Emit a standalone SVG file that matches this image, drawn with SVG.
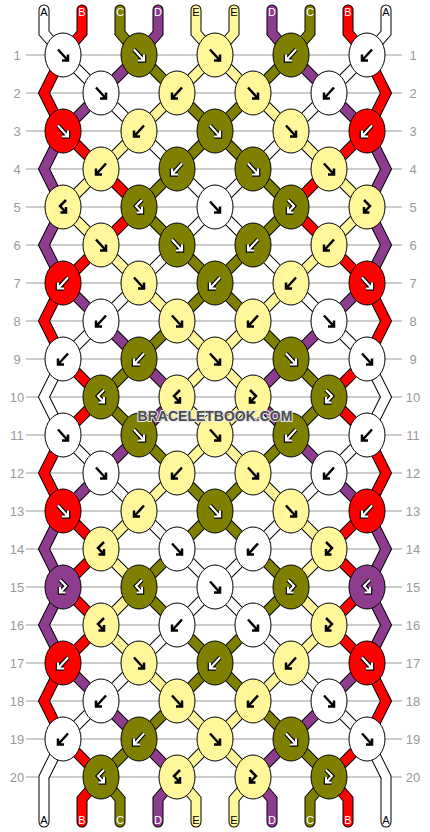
<svg xmlns="http://www.w3.org/2000/svg" width="430" height="832" viewBox="0 0 430 832">
<style>
.rl{stroke:#bcbcbc;stroke-width:1.5}
.rn{font-family:"Liberation Sans",Arial,sans-serif;font-size:13px;fill:#999;text-anchor:middle}
.lb{font-family:"Liberation Sans",Arial,sans-serif;font-size:11px;text-anchor:middle}
.ol{fill:none;stroke:#000;stroke-width:11;stroke-linecap:round;stroke-linejoin:miter}
.in{fill:none;stroke-width:9;stroke-linecap:round;stroke-linejoin:miter}
.cW{stroke:#fff}.cR{stroke:#f00}.cO{stroke:#808000}.cP{stroke:#8e3c8e}.cY{stroke:#fff799}
ellipse{stroke:#000;stroke-width:1}
.kW{fill:#fff}.kR{fill:#f00}.kO{fill:#808000}.kP{fill:#8e3c8e}.kY{fill:#fff799}
.ak{fill:none;stroke:#000;stroke-width:2.5}
.ao{fill:none;stroke:#000;stroke-width:4.5}
.aw{fill:none;stroke:#fff;stroke-width:2.2}
.wm{font-family:"Liberation Sans",Arial,sans-serif;font-size:14px;font-weight:bold;fill:#4d4d4d;stroke:#e6e6e6;stroke-width:2;paint-order:stroke;text-anchor:middle}
</style>
<defs>
<path id="f" d="M-5,-5.5L5,5.5M5,-0.5V5.5H-1"/>
<path id="b" d="M5,-5.5L-5,5.5M-5,-0.5V5.5H1"/>
<path id="fb" d="M-3,-7L3,-1L-3,5.5M-3,0V5.5H2.5"/>
<path id="bf" d="M3,-7L-3,-1L3,5.5M3,0V5.5H-2.5"/>
<path id="sW" d="M44,10V33L63,55M386,10V33L367,55M63,55l38,38M367,55l-38,38M101,93l38,38M329,93l-38,38M139,131l38,38M291,131l-38,38M177,169l38,38M253,169l-38,38M215,207l-38,38M215,207l38,38M177,245l-38,38M253,245l38,38M139,283l-38,38M291,283l38,38M101,321l-38,38M329,321l38,38M63,359L44,397L63,435M367,359L386,397L367,435M63,435l38,38M367,435l-38,38M101,473l38,38M329,473l-38,38M139,511l38,38M291,511l-38,38M177,549l38,38M253,549l-38,38M215,587l-38,38M215,587l38,38M177,625l-38,38M253,625l38,38M139,663l-38,38M291,663l38,38M101,701l-38,38M329,701l38,38M63,739L44,777V822M367,739L386,777V822"/>
<path id="sR" d="M82,10V33L63,55M348,10V33L367,55M63,55L44,93L63,131M367,55L386,93L367,131M63,131l38,38M367,131l-38,38M101,169l38,38M329,169l-38,38M139,207l-38,38M291,207l38,38M101,245l-38,38M329,245l38,38M63,283L44,321L63,359M367,283L386,321L367,359M63,359l38,38M367,359l-38,38M101,397l-38,38M329,397l38,38M63,435L44,473L63,511M367,435L386,473L367,511M63,511l38,38M367,511l-38,38M101,549l-38,38M329,549l38,38M63,587l38,38M367,587l-38,38M101,625l-38,38M329,625l38,38M63,663L44,701L63,739M367,663L386,701L367,739M63,739l38,38M367,739l-38,38M101,777L82,799V822M329,777L348,799V822"/>
<path id="sO" d="M120,10V33L139,55M310,10V33L291,55M139,55l38,38M291,55l-38,38M177,93l38,38M253,93l-38,38M215,131l-38,38M215,131l38,38M177,169l-38,38M253,169l38,38M139,207l38,38M291,207l-38,38M177,245l38,38M253,245l-38,38M215,283l-38,38M215,283l38,38M177,321l-38,38M253,321l38,38M139,359l-38,38M291,359l38,38M101,397l38,38M329,397l-38,38M139,435l38,38M291,435l-38,38M177,473l38,38M253,473l-38,38M215,511l-38,38M215,511l38,38M177,549l-38,38M253,549l38,38M139,587l38,38M291,587l-38,38M177,625l38,38M253,625l-38,38M215,663l-38,38M215,663l38,38M177,701l-38,38M253,701l38,38M139,739l-38,38M291,739l38,38M101,777L120,799V822M329,777L310,799V822"/>
<path id="sP" d="M158,10V33L139,55M272,10V33L291,55M139,55l-38,38M291,55l38,38M101,93l-38,38M329,93l38,38M63,131L44,169L63,207M367,131L386,169L367,207M63,207L44,245L63,283M367,207L386,245L367,283M63,283l38,38M367,283l-38,38M101,321l38,38M329,321l-38,38M139,359l38,38M291,359l-38,38M177,397l-38,38M253,397l38,38M139,435l-38,38M291,435l38,38M101,473l-38,38M329,473l38,38M63,511L44,549L63,587M367,511L386,549L367,587M63,587L44,625L63,663M367,587L386,625L367,663M63,663l38,38M367,663l-38,38M101,701l38,38M329,701l-38,38M139,739l38,38M291,739l-38,38M177,777L158,799V822M253,777L272,799V822"/>
<path id="sY" d="M196,10V33L215,55M234,10V33L215,55M215,55l-38,38M215,55l38,38M177,93l-38,38M253,93l38,38M139,131l-38,38M291,131l38,38M101,169l-38,38M329,169l38,38M63,207l38,38M367,207l-38,38M101,245l38,38M329,245l-38,38M139,283l38,38M291,283l-38,38M177,321l38,38M253,321l-38,38M215,359l-38,38M215,359l38,38M177,397l38,38M253,397l-38,38M215,435l-38,38M215,435l38,38M177,473l-38,38M253,473l38,38M139,511l-38,38M291,511l38,38M101,549l38,38M329,549l-38,38M139,587l-38,38M291,587l38,38M101,625l38,38M329,625l-38,38M139,663l38,38M291,663l-38,38M177,701l38,38M253,701l-38,38M215,739l-38,38M215,739l38,38M177,777L196,799V822M253,777L234,799V822"/>
</defs>
<rect width="430" height="832" fill="#fff"/>
<g id="rows">
<path class="rl" d="M26,55H402M26,93H402M26,131H402M26,169H402M26,207H402M26,245H402M26,283H402M26,321H402M26,359H402M26,397H402M26,435H402M26,473H402M26,511H402M26,549H402M26,587H402M26,625H402M26,663H402M26,701H402M26,739H402M26,777H402"/>
<text class="rn" x="17" y="60">1</text><text class="rn" x="413" y="60">1</text>
<text class="rn" x="17" y="98">2</text><text class="rn" x="413" y="98">2</text>
<text class="rn" x="17" y="136">3</text><text class="rn" x="413" y="136">3</text>
<text class="rn" x="17" y="174">4</text><text class="rn" x="413" y="174">4</text>
<text class="rn" x="17" y="212">5</text><text class="rn" x="413" y="212">5</text>
<text class="rn" x="17" y="250">6</text><text class="rn" x="413" y="250">6</text>
<text class="rn" x="17" y="288">7</text><text class="rn" x="413" y="288">7</text>
<text class="rn" x="17" y="326">8</text><text class="rn" x="413" y="326">8</text>
<text class="rn" x="17" y="364">9</text><text class="rn" x="413" y="364">9</text>
<text class="rn" x="17" y="402">10</text><text class="rn" x="413" y="402">10</text>
<text class="rn" x="17" y="440">11</text><text class="rn" x="413" y="440">11</text>
<text class="rn" x="17" y="478">12</text><text class="rn" x="413" y="478">12</text>
<text class="rn" x="17" y="516">13</text><text class="rn" x="413" y="516">13</text>
<text class="rn" x="17" y="554">14</text><text class="rn" x="413" y="554">14</text>
<text class="rn" x="17" y="592">15</text><text class="rn" x="413" y="592">15</text>
<text class="rn" x="17" y="630">16</text><text class="rn" x="413" y="630">16</text>
<text class="rn" x="17" y="668">17</text><text class="rn" x="413" y="668">17</text>
<text class="rn" x="17" y="706">18</text><text class="rn" x="413" y="706">18</text>
<text class="rn" x="17" y="744">19</text><text class="rn" x="413" y="744">19</text>
<text class="rn" x="17" y="782">20</text><text class="rn" x="413" y="782">20</text>
</g>
<g id="connectors">
<use href="#sW" class="ol"/><use href="#sR" class="ol"/><use href="#sO" class="ol"/><use href="#sP" class="ol"/><use href="#sY" class="ol"/>
<use href="#sW" class="in cW"/><use href="#sR" class="in cR"/><use href="#sO" class="in cO"/><use href="#sP" class="in cP"/><use href="#sY" class="in cY"/>
</g>
<g id="labels">
<text class="lb" x="44" y="16" fill="#000">A</text><text class="lb" x="82" y="16" fill="#fff">B</text><text class="lb" x="120" y="16" fill="#fff">C</text><text class="lb" x="158" y="16" fill="#fff">D</text><text class="lb" x="196" y="16" fill="#000">E</text><text class="lb" x="234" y="16" fill="#000">E</text><text class="lb" x="272" y="16" fill="#fff">D</text><text class="lb" x="310" y="16" fill="#fff">C</text><text class="lb" x="348" y="16" fill="#fff">B</text><text class="lb" x="386" y="16" fill="#000">A</text>
<text class="lb" x="44" y="824" fill="#000">A</text><text class="lb" x="82" y="824" fill="#fff">B</text><text class="lb" x="120" y="824" fill="#fff">C</text><text class="lb" x="158" y="824" fill="#fff">D</text><text class="lb" x="196" y="824" fill="#000">E</text><text class="lb" x="234" y="824" fill="#000">E</text><text class="lb" x="272" y="824" fill="#fff">D</text><text class="lb" x="310" y="824" fill="#fff">C</text><text class="lb" x="348" y="824" fill="#fff">B</text><text class="lb" x="386" y="824" fill="#000">A</text>
</g>
<g id="knots">
<g id="k1-1"><ellipse class="kW" cx="63" cy="55" rx="18" ry="22"/><use href="#f" x="63" y="55" class="ak"/></g>
<g id="k1-2"><ellipse class="kO" cx="139" cy="55" rx="18" ry="22"/><use href="#f" x="139" y="55" class="ao"/><use href="#f" x="139" y="55" class="aw"/></g>
<g id="k1-3"><ellipse class="kY" cx="215" cy="55" rx="18" ry="22"/><use href="#f" x="215" y="55" class="ak"/></g>
<g id="k1-4"><ellipse class="kO" cx="291" cy="55" rx="18" ry="22"/><use href="#b" x="291" y="55" class="ao"/><use href="#b" x="291" y="55" class="aw"/></g>
<g id="k1-5"><ellipse class="kW" cx="367" cy="55" rx="18" ry="22"/><use href="#b" x="367" y="55" class="ak"/></g>
<g id="k2-1"><ellipse class="kW" cx="101" cy="93" rx="18" ry="22"/><use href="#f" x="101" y="93" class="ak"/></g>
<g id="k2-2"><ellipse class="kY" cx="177" cy="93" rx="18" ry="22"/><use href="#b" x="177" y="93" class="ak"/></g>
<g id="k2-3"><ellipse class="kY" cx="253" cy="93" rx="18" ry="22"/><use href="#f" x="253" y="93" class="ak"/></g>
<g id="k2-4"><ellipse class="kW" cx="329" cy="93" rx="18" ry="22"/><use href="#b" x="329" y="93" class="ak"/></g>
<g id="k3-1"><ellipse class="kR" cx="63" cy="131" rx="18" ry="22"/><use href="#f" x="63" y="131" class="ao"/><use href="#f" x="63" y="131" class="aw"/></g>
<g id="k3-2"><ellipse class="kY" cx="139" cy="131" rx="18" ry="22"/><use href="#b" x="139" y="131" class="ak"/></g>
<g id="k3-3"><ellipse class="kO" cx="215" cy="131" rx="18" ry="22"/><use href="#f" x="215" y="131" class="ao"/><use href="#f" x="215" y="131" class="aw"/></g>
<g id="k3-4"><ellipse class="kY" cx="291" cy="131" rx="18" ry="22"/><use href="#f" x="291" y="131" class="ak"/></g>
<g id="k3-5"><ellipse class="kR" cx="367" cy="131" rx="18" ry="22"/><use href="#b" x="367" y="131" class="ao"/><use href="#b" x="367" y="131" class="aw"/></g>
<g id="k4-1"><ellipse class="kY" cx="101" cy="169" rx="18" ry="22"/><use href="#b" x="101" y="169" class="ak"/></g>
<g id="k4-2"><ellipse class="kO" cx="177" cy="169" rx="18" ry="22"/><use href="#b" x="177" y="169" class="ao"/><use href="#b" x="177" y="169" class="aw"/></g>
<g id="k4-3"><ellipse class="kO" cx="253" cy="169" rx="18" ry="22"/><use href="#f" x="253" y="169" class="ao"/><use href="#f" x="253" y="169" class="aw"/></g>
<g id="k4-4"><ellipse class="kY" cx="329" cy="169" rx="18" ry="22"/><use href="#f" x="329" y="169" class="ak"/></g>
<g id="k5-1"><ellipse class="kY" cx="63" cy="207" rx="18" ry="22"/><use href="#bf" x="63" y="207" class="ak"/></g>
<g id="k5-2"><ellipse class="kO" cx="139" cy="207" rx="18" ry="22"/><use href="#bf" x="139" y="207" class="ao"/><use href="#bf" x="139" y="207" class="aw"/></g>
<g id="k5-3"><ellipse class="kW" cx="215" cy="207" rx="18" ry="22"/><use href="#f" x="215" y="207" class="ak"/></g>
<g id="k5-4"><ellipse class="kO" cx="291" cy="207" rx="18" ry="22"/><use href="#fb" x="291" y="207" class="ao"/><use href="#fb" x="291" y="207" class="aw"/></g>
<g id="k5-5"><ellipse class="kY" cx="367" cy="207" rx="18" ry="22"/><use href="#fb" x="367" y="207" class="ak"/></g>
<g id="k6-1"><ellipse class="kY" cx="101" cy="245" rx="18" ry="22"/><use href="#f" x="101" y="245" class="ak"/></g>
<g id="k6-2"><ellipse class="kO" cx="177" cy="245" rx="18" ry="22"/><use href="#f" x="177" y="245" class="ao"/><use href="#f" x="177" y="245" class="aw"/></g>
<g id="k6-3"><ellipse class="kO" cx="253" cy="245" rx="18" ry="22"/><use href="#b" x="253" y="245" class="ao"/><use href="#b" x="253" y="245" class="aw"/></g>
<g id="k6-4"><ellipse class="kY" cx="329" cy="245" rx="18" ry="22"/><use href="#b" x="329" y="245" class="ak"/></g>
<g id="k7-1"><ellipse class="kR" cx="63" cy="283" rx="18" ry="22"/><use href="#b" x="63" y="283" class="ao"/><use href="#b" x="63" y="283" class="aw"/></g>
<g id="k7-2"><ellipse class="kY" cx="139" cy="283" rx="18" ry="22"/><use href="#f" x="139" y="283" class="ak"/></g>
<g id="k7-3"><ellipse class="kO" cx="215" cy="283" rx="18" ry="22"/><use href="#b" x="215" y="283" class="ao"/><use href="#b" x="215" y="283" class="aw"/></g>
<g id="k7-4"><ellipse class="kY" cx="291" cy="283" rx="18" ry="22"/><use href="#b" x="291" y="283" class="ak"/></g>
<g id="k7-5"><ellipse class="kR" cx="367" cy="283" rx="18" ry="22"/><use href="#f" x="367" y="283" class="ao"/><use href="#f" x="367" y="283" class="aw"/></g>
<g id="k8-1"><ellipse class="kW" cx="101" cy="321" rx="18" ry="22"/><use href="#b" x="101" y="321" class="ak"/></g>
<g id="k8-2"><ellipse class="kY" cx="177" cy="321" rx="18" ry="22"/><use href="#f" x="177" y="321" class="ak"/></g>
<g id="k8-3"><ellipse class="kY" cx="253" cy="321" rx="18" ry="22"/><use href="#b" x="253" y="321" class="ak"/></g>
<g id="k8-4"><ellipse class="kW" cx="329" cy="321" rx="18" ry="22"/><use href="#f" x="329" y="321" class="ak"/></g>
<g id="k9-1"><ellipse class="kW" cx="63" cy="359" rx="18" ry="22"/><use href="#b" x="63" y="359" class="ak"/></g>
<g id="k9-2"><ellipse class="kO" cx="139" cy="359" rx="18" ry="22"/><use href="#b" x="139" y="359" class="ao"/><use href="#b" x="139" y="359" class="aw"/></g>
<g id="k9-3"><ellipse class="kY" cx="215" cy="359" rx="18" ry="22"/><use href="#f" x="215" y="359" class="ak"/></g>
<g id="k9-4"><ellipse class="kO" cx="291" cy="359" rx="18" ry="22"/><use href="#f" x="291" y="359" class="ao"/><use href="#f" x="291" y="359" class="aw"/></g>
<g id="k9-5"><ellipse class="kW" cx="367" cy="359" rx="18" ry="22"/><use href="#f" x="367" y="359" class="ak"/></g>
<g id="k10-1"><ellipse class="kO" cx="101" cy="397" rx="18" ry="22"/><use href="#bf" x="101" y="397" class="ao"/><use href="#bf" x="101" y="397" class="aw"/></g>
<g id="k10-2"><ellipse class="kY" cx="177" cy="397" rx="18" ry="22"/><use href="#bf" x="177" y="397" class="ak"/></g>
<g id="k10-3"><ellipse class="kY" cx="253" cy="397" rx="18" ry="22"/><use href="#fb" x="253" y="397" class="ak"/></g>
<g id="k10-4"><ellipse class="kO" cx="329" cy="397" rx="18" ry="22"/><use href="#fb" x="329" y="397" class="ao"/><use href="#fb" x="329" y="397" class="aw"/></g>
<g id="k11-1"><ellipse class="kW" cx="63" cy="435" rx="18" ry="22"/><use href="#f" x="63" y="435" class="ak"/></g>
<g id="k11-2"><ellipse class="kO" cx="139" cy="435" rx="18" ry="22"/><use href="#f" x="139" y="435" class="ao"/><use href="#f" x="139" y="435" class="aw"/></g>
<g id="k11-3"><ellipse class="kY" cx="215" cy="435" rx="18" ry="22"/><use href="#f" x="215" y="435" class="ak"/></g>
<g id="k11-4"><ellipse class="kO" cx="291" cy="435" rx="18" ry="22"/><use href="#b" x="291" y="435" class="ao"/><use href="#b" x="291" y="435" class="aw"/></g>
<g id="k11-5"><ellipse class="kW" cx="367" cy="435" rx="18" ry="22"/><use href="#b" x="367" y="435" class="ak"/></g>
<g id="k12-1"><ellipse class="kW" cx="101" cy="473" rx="18" ry="22"/><use href="#f" x="101" y="473" class="ak"/></g>
<g id="k12-2"><ellipse class="kY" cx="177" cy="473" rx="18" ry="22"/><use href="#b" x="177" y="473" class="ak"/></g>
<g id="k12-3"><ellipse class="kY" cx="253" cy="473" rx="18" ry="22"/><use href="#f" x="253" y="473" class="ak"/></g>
<g id="k12-4"><ellipse class="kW" cx="329" cy="473" rx="18" ry="22"/><use href="#b" x="329" y="473" class="ak"/></g>
<g id="k13-1"><ellipse class="kR" cx="63" cy="511" rx="18" ry="22"/><use href="#f" x="63" y="511" class="ao"/><use href="#f" x="63" y="511" class="aw"/></g>
<g id="k13-2"><ellipse class="kY" cx="139" cy="511" rx="18" ry="22"/><use href="#b" x="139" y="511" class="ak"/></g>
<g id="k13-3"><ellipse class="kO" cx="215" cy="511" rx="18" ry="22"/><use href="#f" x="215" y="511" class="ao"/><use href="#f" x="215" y="511" class="aw"/></g>
<g id="k13-4"><ellipse class="kY" cx="291" cy="511" rx="18" ry="22"/><use href="#f" x="291" y="511" class="ak"/></g>
<g id="k13-5"><ellipse class="kR" cx="367" cy="511" rx="18" ry="22"/><use href="#b" x="367" y="511" class="ao"/><use href="#b" x="367" y="511" class="aw"/></g>
<g id="k14-1"><ellipse class="kY" cx="101" cy="549" rx="18" ry="22"/><use href="#bf" x="101" y="549" class="ak"/></g>
<g id="k14-2"><ellipse class="kW" cx="177" cy="549" rx="18" ry="22"/><use href="#f" x="177" y="549" class="ak"/></g>
<g id="k14-3"><ellipse class="kW" cx="253" cy="549" rx="18" ry="22"/><use href="#b" x="253" y="549" class="ak"/></g>
<g id="k14-4"><ellipse class="kY" cx="329" cy="549" rx="18" ry="22"/><use href="#fb" x="329" y="549" class="ak"/></g>
<g id="k15-1"><ellipse class="kP" cx="63" cy="587" rx="18" ry="22"/><use href="#fb" x="63" y="587" class="ao"/><use href="#fb" x="63" y="587" class="aw"/></g>
<g id="k15-2"><ellipse class="kO" cx="139" cy="587" rx="18" ry="22"/><use href="#bf" x="139" y="587" class="ao"/><use href="#bf" x="139" y="587" class="aw"/></g>
<g id="k15-3"><ellipse class="kW" cx="215" cy="587" rx="18" ry="22"/><use href="#f" x="215" y="587" class="ak"/></g>
<g id="k15-4"><ellipse class="kO" cx="291" cy="587" rx="18" ry="22"/><use href="#fb" x="291" y="587" class="ao"/><use href="#fb" x="291" y="587" class="aw"/></g>
<g id="k15-5"><ellipse class="kP" cx="367" cy="587" rx="18" ry="22"/><use href="#bf" x="367" y="587" class="ao"/><use href="#bf" x="367" y="587" class="aw"/></g>
<g id="k16-1"><ellipse class="kY" cx="101" cy="625" rx="18" ry="22"/><use href="#bf" x="101" y="625" class="ak"/></g>
<g id="k16-2"><ellipse class="kW" cx="177" cy="625" rx="18" ry="22"/><use href="#b" x="177" y="625" class="ak"/></g>
<g id="k16-3"><ellipse class="kW" cx="253" cy="625" rx="18" ry="22"/><use href="#f" x="253" y="625" class="ak"/></g>
<g id="k16-4"><ellipse class="kY" cx="329" cy="625" rx="18" ry="22"/><use href="#fb" x="329" y="625" class="ak"/></g>
<g id="k17-1"><ellipse class="kR" cx="63" cy="663" rx="18" ry="22"/><use href="#b" x="63" y="663" class="ao"/><use href="#b" x="63" y="663" class="aw"/></g>
<g id="k17-2"><ellipse class="kY" cx="139" cy="663" rx="18" ry="22"/><use href="#f" x="139" y="663" class="ak"/></g>
<g id="k17-3"><ellipse class="kO" cx="215" cy="663" rx="18" ry="22"/><use href="#b" x="215" y="663" class="ao"/><use href="#b" x="215" y="663" class="aw"/></g>
<g id="k17-4"><ellipse class="kY" cx="291" cy="663" rx="18" ry="22"/><use href="#b" x="291" y="663" class="ak"/></g>
<g id="k17-5"><ellipse class="kR" cx="367" cy="663" rx="18" ry="22"/><use href="#f" x="367" y="663" class="ao"/><use href="#f" x="367" y="663" class="aw"/></g>
<g id="k18-1"><ellipse class="kW" cx="101" cy="701" rx="18" ry="22"/><use href="#b" x="101" y="701" class="ak"/></g>
<g id="k18-2"><ellipse class="kY" cx="177" cy="701" rx="18" ry="22"/><use href="#f" x="177" y="701" class="ak"/></g>
<g id="k18-3"><ellipse class="kY" cx="253" cy="701" rx="18" ry="22"/><use href="#b" x="253" y="701" class="ak"/></g>
<g id="k18-4"><ellipse class="kW" cx="329" cy="701" rx="18" ry="22"/><use href="#f" x="329" y="701" class="ak"/></g>
<g id="k19-1"><ellipse class="kW" cx="63" cy="739" rx="18" ry="22"/><use href="#b" x="63" y="739" class="ak"/></g>
<g id="k19-2"><ellipse class="kO" cx="139" cy="739" rx="18" ry="22"/><use href="#b" x="139" y="739" class="ao"/><use href="#b" x="139" y="739" class="aw"/></g>
<g id="k19-3"><ellipse class="kY" cx="215" cy="739" rx="18" ry="22"/><use href="#f" x="215" y="739" class="ak"/></g>
<g id="k19-4"><ellipse class="kO" cx="291" cy="739" rx="18" ry="22"/><use href="#f" x="291" y="739" class="ao"/><use href="#f" x="291" y="739" class="aw"/></g>
<g id="k19-5"><ellipse class="kW" cx="367" cy="739" rx="18" ry="22"/><use href="#f" x="367" y="739" class="ak"/></g>
<g id="k20-1"><ellipse class="kO" cx="101" cy="777" rx="18" ry="22"/><use href="#bf" x="101" y="777" class="ao"/><use href="#bf" x="101" y="777" class="aw"/></g>
<g id="k20-2"><ellipse class="kY" cx="177" cy="777" rx="18" ry="22"/><use href="#bf" x="177" y="777" class="ak"/></g>
<g id="k20-3"><ellipse class="kY" cx="253" cy="777" rx="18" ry="22"/><use href="#fb" x="253" y="777" class="ak"/></g>
<g id="k20-4"><ellipse class="kO" cx="329" cy="777" rx="18" ry="22"/><use href="#fb" x="329" y="777" class="ao"/><use href="#fb" x="329" y="777" class="aw"/></g>
</g>
<text class="wm" x="215" y="421">BRACELETBOOK.COM</text>
</svg>
